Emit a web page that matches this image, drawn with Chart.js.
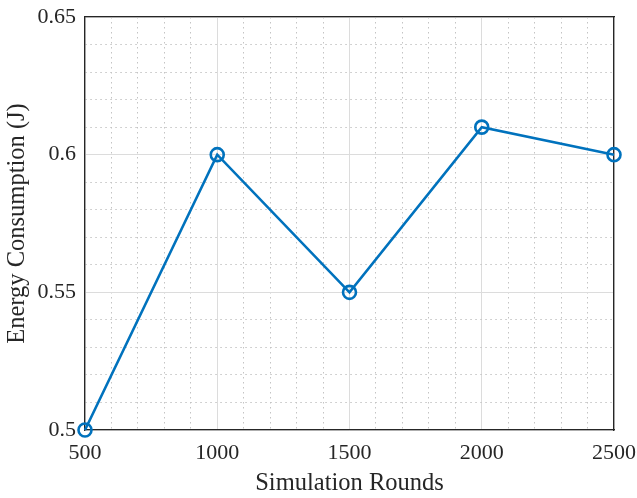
<!DOCTYPE html>
<html>
<head>
<meta charset="utf-8">
<script src="https://cdn.jsdelivr.net/npm/chart.js@4"></script>
<style>
  html, body { margin: 0; padding: 0; background: #fff; }
  #wrap { width: 637px; height: 498px; }
</style>
</head>
<body>
<div id="wrap"><canvas id="myChart" width="637" height="498"></canvas></div>
<script>
// chart data
const rounds = [500, 1000, 1500, 2000, 2500];
const energy = [0.50, 0.60, 0.55, 0.61, 0.60];
const xTicks = [500, 1000, 1500, 2000, 2500];
const yTicks = [0.5, 0.55, 0.6, 0.65];

const axisColor = '#262626';
const fontFamily = '"Liberation Serif", "Times New Roman", serif';

// major lines solid, minor lines dotted
function isMajorX(v) { return Math.abs(v % 500) < 1e-6; }
function isMajorY(v) { return Math.abs(Math.round(v * 100) % 5) === 0; }

const ctx = document.getElementById('myChart').getContext('2d');
const chart = new Chart(ctx, {
  type: 'line',
  data: {
    datasets: [{
      label: 'Energy',
      data: rounds.map((r, i) => ({ x: r, y: energy[i] })),
      borderColor: '#0072BD',
      borderWidth: 2.6,
      pointRadius: 6.5,
      pointBorderWidth: 2.6,
      pointBackgroundColor: 'rgba(0,0,0,0)',
      pointBorderColor: '#0072BD',
      tension: 0,
      clip: false
    }]
  },
  options: {
    responsive: false,
    animation: false,
    layout: { padding: { top: 17, right: 23, left: 0, bottom: 0 } },
    plugins: { legend: { display: false }, tooltip: { enabled: false } },
    scales: {
      x: {
        type: 'linear',
        min: 500, max: 2500,
        afterBuildTicks: function(scale) {
          const t = [];
          for (let v = 500; v <= 2500; v += 100) t.push({ value: v });
          scale.ticks = t;
        },
        afterFit: function(scale) {
          scale.height = 68;
          scale.paddingLeft = 0; scale.paddingRight = 0;
        },
        ticks: {
          autoSkip: false,
          maxRotation: 0,
          color: axisColor,
          font: { family: fontFamily, size: 22 },
          padding: 10,
          callback: function(v) { return xTicks.includes(v) ? String(v) : ''; }
        },
        grid: {
          drawTicks: false,
          color: function(c) { return isMajorX(c.tick.value) ? '#dcdcdc' : '#c4c4c4'; },
          lineWidth: 1
        },
        border: {
          color: axisColor, width: 1.3,
          dash: function(c) { return c.tick && isMajorX(c.tick.value) ? [] : [1.5, 3.5]; }
        },
        title: {
          display: true, text: 'Simulation Rounds', color: axisColor,
          font: { family: fontFamily, size: 24.5 }, padding: { top: 0, bottom: 0 }
        }
      },
      y: {
        min: 0.5, max: 0.65,
        afterBuildTicks: function(scale) {
          const t = [];
          for (let i = 50; i <= 65; i++) t.push({ value: i / 100 });
          scale.ticks = t;
        },
        afterFit: function(scale) {
          scale.width = 85;
          scale.paddingTop = 0; scale.paddingBottom = 0;
        },
        ticks: {
          autoSkip: false,
          color: axisColor,
          font: { family: fontFamily, size: 22 },
          padding: 9,
          callback: function(v) {
            const hit = yTicks.find(t => Math.abs(t - v) < 1e-6);
            return hit !== undefined ? String(hit) : '';
          }
        },
        grid: {
          drawTicks: false,
          color: function(c) { return isMajorY(c.tick.value) ? '#dcdcdc' : '#c4c4c4'; }
        },
        border: {
          color: axisColor, width: 1.3,
          dash: function(c) { return c.tick && isMajorY(c.tick.value) ? [] : [1.5, 3.5]; }
        },
        title: {
          display: true, text: 'Energy Consumption (J)', color: axisColor,
          font: { family: fontFamily, size: 24.5 }, padding: { top: 3, bottom: 3 }
        }
      },
      x2: {
        type: 'linear', position: 'top', min: 500, max: 2500,
        afterFit: function(scale) {
          scale.height = 0;
          scale.paddingLeft = 0; scale.paddingRight = 0;
        },
        ticks: { display: false },
        grid: { drawOnChartArea: false, drawTicks: false },
        border: { color: axisColor, width: 1.3 }
      },
      y2: {
        position: 'right', min: 0.5, max: 0.65,
        afterFit: function(scale) {
          scale.width = 0;
          scale.paddingTop = 0; scale.paddingBottom = 0;
        },
        ticks: { display: false },
        grid: { drawOnChartArea: false, drawTicks: false },
        border: { color: axisColor, width: 1.3 }
      }
    }
  }
});
</script>
</body>
</html>
